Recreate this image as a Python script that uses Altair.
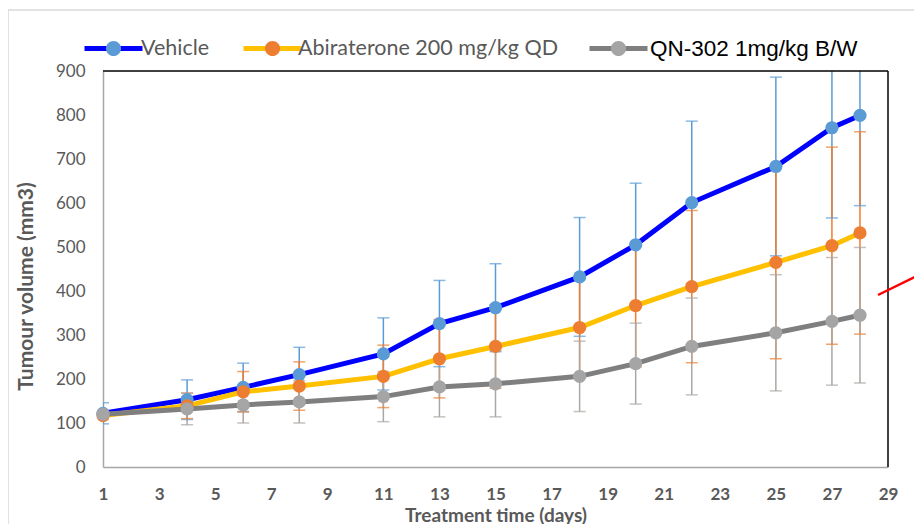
import altair as alt
import pandas as pd

# ---- data ----
days = [1, 4, 6, 8, 11, 13, 15, 18, 20, 22, 25, 27, 28]
series_names = ["Vehicle", "Abiraterone 200 mg/kg QD", "QN-302 1mg/kg B/W"]
vehicle = [122, 153, 181, 210, 257, 326, 362, 432, 505, 601, 683, 771, 799]
vehicle_sd = [24, 45, 55, 62, 82, 98, 100, 135, 140, 185, 203, 205, 205]
abi = [117, 139, 171, 184, 206, 246, 274, 317, 367, 410, 465, 503, 532]
abi_sd = [8, 29, 46, 55, 71, 89, 95, 115, 140, 173, 219, 224, 230]
qn = [120, 132, 141, 148, 160, 182, 189, 206, 235, 274, 305, 331, 345]
qn_sd = [8, 36, 41, 48, 57, 68, 75, 80, 92, 110, 132, 145, 154]
x_ticks = list(range(1, 30, 2))
y_ticks = list(range(0, 901, 100))

line_colors = ["#0000FF", "#FFC000", "#7F7F7F"]
marker_colors = ["#5B9BD5", "#ED7D31", "#A5A5A5"]
bar_colors = ["#5B9BD5", "#ED7D31", "#ABA7A3"]

rows = []
for name, means, sds in zip(series_names, [vehicle, abi, qn], [vehicle_sd, abi_sd, qn_sd]):
    for d, m, s in zip(days, means, sds):
        rows.append({"day": d, "series": name, "mean": m, "lo": m - s, "hi": m + s})
df = pd.DataFrame(rows)

W, H = 785, 396

# legend styling (one legend entry per series so each can be placed like the original)
legend_x = [-21, 138, 484]
label_fonts = ["Lato", "Lato", "Liberation Sans"]
label_sizes = [21.5, 21.5, 22.5]
label_colors = ["#595959", "#595959", "#000000"]
label_offsets = ["-4", "-6", "0"]
SYM = 3364
LINE_PATH = "M-1,0L1,0"
DOT_PATH = "M0.26,0A0.26,0.26,0,1,1,-0.26,0A0.26,0.26,0,1,1,0.26,0Z"

x_enc = alt.X("day:Q", scale=alt.Scale(domain=[1, 29], nice=False, zero=False),
              axis=alt.Axis(values=x_ticks, title="Treatment time (days)",
                            labelFontWeight="bold", labelPadding=19, labelFlush=False,
                            titleY=48, titleBaseline="middle", titleFontSize=19))
y_scale = alt.Scale(domain=[0, 900], nice=False)
y_axis = alt.Axis(values=y_ticks, title="Tumour volume (mm3)", labelPadding=18,
                  labelFlush=False, titleX=-77, titleY=215, titleBaseline="middle",
                  titleFontSize=21)

base = alt.Chart(df)
bar_color = alt.Color("series:N", scale=alt.Scale(domain=series_names, range=bar_colors), legend=None)

bars = base.mark_rule(strokeWidth=1.5, clip=True).encode(
    x=x_enc, y=alt.Y("lo:Q", scale=y_scale, axis=y_axis), y2="hi:Q", color=bar_color)
cap_lo = base.mark_tick(orient="horizontal", size=12, thickness=1.5, clip=True).encode(
    x=x_enc, y=alt.Y("lo:Q", scale=y_scale, axis=y_axis), color=bar_color)
cap_hi = base.mark_tick(orient="horizontal", size=12, thickness=1.5, clip=True).encode(
    x=x_enc, y=alt.Y("hi:Q", scale=y_scale, axis=y_axis), color=bar_color)

line_layers = []
point_layers = []
for i, name in enumerate(series_names):
    sub = base.transform_filter(alt.datum.series == name)
    common = dict(orient="none", legendX=legend_x[i], legendY=-54, title=None,
                  symbolSize=SYM, symbolStrokeWidth=5, labelLimit=0)
    line_layers.append(sub.mark_line(strokeWidth=5).encode(
        x=x_enc, y=alt.Y("mean:Q", scale=y_scale, axis=y_axis),
        stroke=alt.Stroke("series:N", scale=alt.Scale(domain=[name], range=[line_colors[i]]),
                          legend=alt.Legend(symbolType=LINE_PATH, labelFont=label_fonts[i],
                                            labelFontSize=label_sizes[i], labelColor=label_colors[i],
                                            labelOffset=alt.ExprRef(label_offsets[i]), **common)),
    ))
    point_layers.append(sub.mark_circle(size=175, opacity=1).encode(
        x=x_enc, y=alt.Y("mean:Q", scale=y_scale, axis=y_axis),
        fill=alt.Fill("series:N", scale=alt.Scale(domain=[name], range=[marker_colors[i]]),
                      legend=alt.Legend(symbolType=DOT_PATH, symbolStrokeColor="transparent",
                                        symbolOpacity=1, labelExpr="''", **common)),
    ))

one = alt.Chart(pd.DataFrame({"k": [0]}))
frame_top = one.mark_rule(color="black", strokeWidth=1.5).encode(
    x=alt.value(0), x2=alt.value(W), y=alt.value(0))
frame_right = one.mark_rule(color="black", strokeWidth=1.5).encode(
    x=alt.value(W), y=alt.value(0), y2=alt.value(H))
outer_top = one.mark_rule(color="#D9D9D9", strokeWidth=1.5).encode(
    x=alt.value(-98), x2=alt.value(W + 40), y=alt.value(-61))
outer_left = one.mark_rule(color="#D9D9D9", strokeWidth=1.5).encode(
    x=alt.value(-95), y=alt.value(-61), y2=alt.value(H + 70))
red_mark = one.mark_rule(color="#FF0000", strokeWidth=2.5).encode(
    x=alt.value(775), y=alt.value(224), x2=alt.value(820), y2=alt.value(202))

chart = alt.layer(
    outer_top, outer_left, bars, cap_lo, cap_hi, *line_layers, *point_layers,
    frame_top, frame_right, red_mark
).resolve_scale(stroke="independent", fill="independent").resolve_legend(
    stroke="independent", fill="independent"
).properties(
    width=W, height=H,
    autosize=alt.AutoSizeParams(type="none"),
    padding={"left": 95, "top": 63, "right": 26, "bottom": 57},
    background="white",
).configure_view(stroke=None).configure_axis(
    labelFont="Lato", labelColor="#595959", labelFontSize=17,
    titleFont="Lato", titleFontWeight="bold", titleColor="#595959",
    domainColor="#A6A6A6", domainWidth=1.5, ticks=False, grid=False,
)

chart.save("out.html", embed_options={"renderer": "svg", "actions": False})
